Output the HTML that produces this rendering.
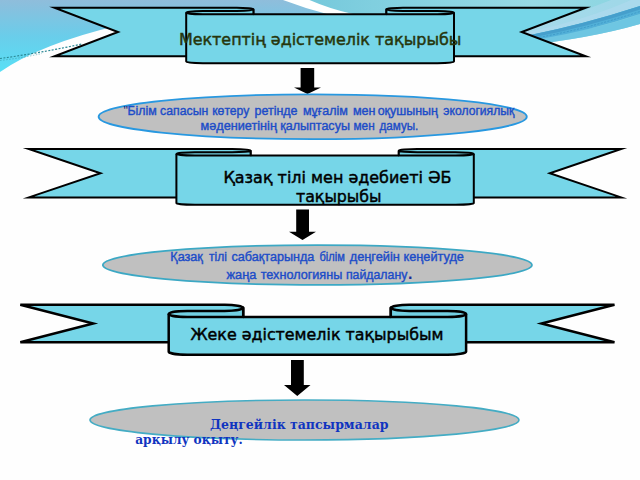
<!DOCTYPE html>
<html><head><meta charset="utf-8"><title>slide</title>
<style>
html,body{margin:0;padding:0;background:#fff;}
svg{display:block}
.t1{font-family:"DejaVu Sans","Liberation Sans",sans-serif;font-size:16px;fill:#26360c;stroke:#26360c;stroke-width:0.45px}
.t2{font-family:"DejaVu Sans","Liberation Sans",sans-serif;font-size:16px;fill:#000;stroke:#000;stroke-width:0.45px}
.e1{font-family:"Liberation Sans",sans-serif;font-size:12.5px;fill:#1c4cc8;stroke:#1c4cc8;stroke-width:0.4px}
.e3{font-family:"DejaVu Serif","Liberation Serif",serif;font-size:12.44px;font-weight:bold;fill:#1034c0}
</style></head><body>
<svg width="640" height="480" viewBox="0 0 640 480">

<defs>
<linearGradient id="g1" x1="0" y1="0" x2="0" y2="1">
<stop offset="0" stop-color="#8fbddb"/><stop offset="0.5" stop-color="#6acdea"/><stop offset="1" stop-color="#58e0f6"/>
</linearGradient>
<linearGradient id="g2" x1="0" y1="0" x2="1" y2="0">
<stop offset="0" stop-color="#72c6da"/><stop offset="0.25" stop-color="#80cfdf"/><stop offset="0.7" stop-color="#97dae5"/><stop offset="1" stop-color="#8ad4e0"/>
</linearGradient>
</defs>
<rect width="640" height="480" fill="#fefefe"/>
<!-- right area -->
<path d="M284,0 L640,0 L640,24 Q590,38.5 520,46 L300,46 Z" fill="url(#g2)"/>
<!-- left gradient block -->
<path d="M0,0 L284,0 Q304,8 328,14 L330,22 L120,25 Q40,44 0,72 Z" fill="url(#g1)"/>
<!-- white swoosh top centre -->
<path d="M283,0 L309.5,0 Q330,9 353,14 L327,14 Q304,8 283,0 Z" fill="#fff"/>
<!-- bands right -->
<path d="M505,36 Q575,16 640,-12 L640,6 Q584,24.25 528,35.5 Z" fill="#b8dcf2" opacity="0.45"/>
<path d="M500,37 Q580,24 640,-4 L640,6 Q584,24.25 528,35.5 Z" fill="#b8dcf2" opacity="0.4"/>
<path d="M528,38 Q590,32 640,14 L640,24 Q590,38.5 520,46 Z" fill="#6ec6e2"/>
<path d="M528,35.5 Q584,24.25 640,6 L640,14 Q590,30.5 540,39 Z" fill="#52b0d8"/>
<path d="M528,35.5 Q584,24.25 640,6 L640,9.5 Q586,27.5 532,37.5 Z" fill="#469fcc"/>
<path d="M536,38 Q588,28.5 640,11.5" fill="none" stroke="#3a94c4" stroke-width="0.8" stroke-dasharray="2,1.5"/>
<path d="M0,58.5 Q40,53 82,44" fill="none" stroke="#2a8794" stroke-width="1.2" stroke-dasharray="2,1.5"/>
<path d="M0,60.5 Q22,58 42,53.5" fill="none" stroke="#3a9aa8" stroke-width="0.8" stroke-dasharray="1.5,1.5" opacity="0.7"/>

<path d="M253.4,56.2 L54.5,56.2 L118,31.95 L54.5,7.7 L236.8,7.7 A16.6,1.65 0 0 1 253.4,9.35 L253.4,14.3" fill="#76d6e8" stroke="#000" stroke-width="2.0" stroke-linejoin="miter" stroke-miterlimit="8"/>
<path d="M386.4,56.2 L585.8,56.2 L521.7,31.95 L585.8,7.7 L403.0,7.7 A16.6,1.65 0 0 0 386.4,9.35 L386.4,14.3" fill="#76d6e8" stroke="#000" stroke-width="2.0" stroke-linejoin="miter" stroke-miterlimit="8"/>
<path d="M186.2,12.65 L186.2,61.55 A16.6,1.65 0 0 0 202.8,63.2 L437.4,63.2 A16.6,1.65 0 0 0 454,61.55 L454,12.65 L437.4,14.3 L202.8,14.3 Z" fill="#76d6e8"/>
<path d="M186.2,12.65 L186.2,61.55 A16.6,1.65 0 0 0 202.8,63.2 L437.4,63.2 A16.6,1.65 0 0 0 454,61.55 L454,12.65" fill="none" stroke="#000" stroke-width="2.0"/>
<path d="M236.8,11.0 L202.8,11.0 A16.6,1.65 0 0 0 202.8,14.3 L253.4,14.3 L253.4,9.35 A16.6,1.65 0 0 1 236.8,11.0 Z" fill="#72d0e2" stroke="#000" stroke-width="2.0" stroke-linejoin="round"/>
<path d="M403.0,11.0 L437.4,11.0 A16.6,1.65 0 0 1 437.4,14.3 L386.4,14.3 L386.4,9.35 A16.6,1.65 0 0 0 403.0,11.0 Z" fill="#72d0e2" stroke="#000" stroke-width="2.0" stroke-linejoin="round"/>
<path d="M253.4,14.3 L386.4,14.3" fill="none" stroke="#000" stroke-width="2.0"/>
<path d="M300.6,68.1 L314.2,68.1 L314.2,87.5 L321,87.5 L307.5,94 L294,87.5 L300.6,87.5 Z" fill="#000"/>
<ellipse cx="312.7" cy="116.7" rx="214.1" ry="22.4" fill="#c0c0c0" stroke="#2898e0" stroke-width="1.8"/>
<path d="M250.6,197.4 L28.8,197.4 L100.5,173.2 L28.8,149.0 L232.09,149.0 A18.51,1.65 0 0 1 250.6,150.65 L250.6,155.6" fill="#76d6e8" stroke="#000" stroke-width="2.0" stroke-linejoin="miter" stroke-miterlimit="8"/>
<path d="M398.8,197.4 L621.2,197.4 L549.8,173.2 L621.2,149.0 L417.31,149.0 A18.51,1.65 0 0 0 398.8,150.65 L398.8,155.6" fill="#76d6e8" stroke="#000" stroke-width="2.0" stroke-linejoin="miter" stroke-miterlimit="8"/>
<path d="M176.4,153.95 L176.4,203.15 A18.51,1.65 0 0 0 194.91,204.8 L455.29,204.8 A18.51,1.65 0 0 0 473.8,203.15 L473.8,153.95 L455.29,155.6 L194.91,155.6 Z" fill="#76d6e8"/>
<path d="M176.4,153.95 L176.4,203.15 A18.51,1.65 0 0 0 194.91,204.8 L455.29,204.8 A18.51,1.65 0 0 0 473.8,203.15 L473.8,153.95" fill="none" stroke="#000" stroke-width="2.0"/>
<path d="M232.09,152.3 L194.91,152.3 A18.51,1.65 0 0 0 194.91,155.6 L250.6,155.6 L250.6,150.65 A18.51,1.65 0 0 1 232.09,152.3 Z" fill="#72d0e2" stroke="#000" stroke-width="2.0" stroke-linejoin="round"/>
<path d="M417.31,152.3 L455.29,152.3 A18.51,1.65 0 0 1 455.29,155.6 L398.8,155.6 L398.8,150.65 A18.51,1.65 0 0 0 417.31,152.3 Z" fill="#72d0e2" stroke="#000" stroke-width="2.0" stroke-linejoin="round"/>
<path d="M250.6,155.6 L398.8,155.6" fill="none" stroke="#000" stroke-width="2.0"/>
<path d="M296.2,209.5 L309,209.5 L309,231.8 L316,231.8 L302.5,240 L289,231.8 L296.2,231.8 Z" fill="#000"/>
<ellipse cx="317.4" cy="265.0" rx="214.6" ry="19.9" fill="#c0c0c0" stroke="#3ca8c4" stroke-width="1.7"/>
<path d="M243.2,342.3 L20.3,342.3 L93.2,323.55 L20.3,304.8 L224.63,304.8 A18.57,3.05 0 0 1 243.2,307.85 L243.2,317.0" fill="#76d6e8" stroke="#000" stroke-width="2.5" stroke-linejoin="miter" stroke-miterlimit="5"/>
<path d="M390.8,342.3 L614.5,342.3 L541.5,323.55 L614.5,304.8 L409.37,304.8 A18.57,3.05 0 0 0 390.8,307.85 L390.8,317.0" fill="#76d6e8" stroke="#000" stroke-width="2.5" stroke-linejoin="miter" stroke-miterlimit="5"/>
<path d="M168.7,313.95 L168.7,351.65 A18.57,3.05 0 0 0 187.27,354.7 L447.53,354.7 A18.57,3.05 0 0 0 466.1,351.65 L466.1,313.95 L447.53,317.0 L187.27,317.0 Z" fill="#76d6e8"/>
<path d="M168.7,313.95 L168.7,351.65 A18.57,3.05 0 0 0 187.27,354.7 L447.53,354.7 A18.57,3.05 0 0 0 466.1,351.65 L466.1,313.95" fill="none" stroke="#000" stroke-width="2.5"/>
<path d="M224.63,310.9 L187.27,310.9 A18.57,3.05 0 0 0 187.27,317.0 L243.2,317.0 L243.2,307.85 A18.57,3.05 0 0 1 224.63,310.9 Z" fill="#72d0e2" stroke="#000" stroke-width="2.5" stroke-linejoin="round"/>
<path d="M409.37,310.9 L447.53,310.9 A18.57,3.05 0 0 1 447.53,317.0 L390.8,317.0 L390.8,307.85 A18.57,3.05 0 0 0 409.37,310.9 Z" fill="#72d0e2" stroke="#000" stroke-width="2.5" stroke-linejoin="round"/>
<path d="M243.2,317.0 L390.8,317.0" fill="none" stroke="#000" stroke-width="2.5"/>
<path d="M291,360 L303.8,360 L303.8,385 L310.5,385 L297.25,396 L284,385 L291,385 Z" fill="#000"/>
<ellipse cx="304.5" cy="420.0" rx="214.5" ry="20.0" fill="#c0c0c0" stroke="#44acc4" stroke-width="1.6"/>
<text x="178.9" y="44.7" textLength="282.5" lengthAdjust="spacingAndGlyphs" class="t1">Мектептің әдістемелік тақырыбы</text>
<text y="115.0" class="e1"><tspan x="123.4" style="fill:#141c78;stroke:none">&quot;</tspan><tspan x="127.4" textLength="29.3" lengthAdjust="spacingAndGlyphs">Білім</tspan> <tspan x="160.1" textLength="48.2" lengthAdjust="spacingAndGlyphs">сапасын</tspan> <tspan x="212.3" textLength="37.0" lengthAdjust="spacingAndGlyphs">көтеру</tspan> <tspan x="254.5" textLength="43.0" lengthAdjust="spacingAndGlyphs">ретінде</tspan> <tspan x="302.9" textLength="45.0" lengthAdjust="spacingAndGlyphs">мұғалім</tspan> <tspan x="352.9" textLength="22.6" lengthAdjust="spacingAndGlyphs">мен</tspan> <tspan x="377.7" textLength="60.2" lengthAdjust="spacingAndGlyphs">оқушының</tspan> <tspan x="443.3" textLength="71.0" lengthAdjust="spacingAndGlyphs">экологиялық</tspan></text>
<text y="130.4" class="e1"><tspan x="200.5" textLength="76.4" lengthAdjust="spacingAndGlyphs">мәдениетінің</tspan> <tspan x="280.3" textLength="69.6" lengthAdjust="spacingAndGlyphs">қалыптасуы</tspan> <tspan x="353.5" textLength="21.2" lengthAdjust="spacingAndGlyphs">мен</tspan> <tspan x="379.5" textLength="38.8" lengthAdjust="spacingAndGlyphs">дамуы.</tspan></text>
<text x="223.5" y="183.0" textLength="228" lengthAdjust="spacingAndGlyphs" class="t2">Қазақ тілі мен әдебиеті ӘБ</text>
<text x="296" y="201.7" textLength="85.5" lengthAdjust="spacingAndGlyphs" class="t2">тақырыбы</text>
<text y="261.0" class="e1"><tspan x="170.3" textLength="32.6" lengthAdjust="spacingAndGlyphs">Қазақ</tspan> <tspan x="209.1" textLength="17.8" lengthAdjust="spacingAndGlyphs">тілі</tspan> <tspan x="231.5" textLength="82.8" lengthAdjust="spacingAndGlyphs">сабақтарында</tspan> <tspan x="319.5" textLength="25.4" lengthAdjust="spacingAndGlyphs">білім</tspan> <tspan x="349.7" textLength="50.2" lengthAdjust="spacingAndGlyphs">деңгейін</tspan> <tspan x="403.5" textLength="60.4" lengthAdjust="spacingAndGlyphs">кеңейтуде</tspan></text>
<text y="279.3" class="e1"><tspan x="226.5" textLength="29.8" lengthAdjust="spacingAndGlyphs">жаңа</tspan> <tspan x="260.7" textLength="81.6" lengthAdjust="spacingAndGlyphs">технологияны</tspan> <tspan x="345.9" textLength="61.5" lengthAdjust="spacingAndGlyphs">пайдалану</tspan><tspan x="407.9" style="font-size:16px;font-weight:bold;stroke:none;fill:#1a2a98">.</tspan></text>
<text x="190.5" y="340.4" textLength="253" lengthAdjust="spacingAndGlyphs" class="t2">Жеке әдістемелік тақырыбым</text>
<text x="209.9" y="428.8" textLength="178.6" lengthAdjust="spacingAndGlyphs" class="e3">Деңгейлік тапсырмалар</text>
<text x="135.2" y="443.8" textLength="107.5" lengthAdjust="spacingAndGlyphs" class="e3">арқылу оқыту.</text>
</svg>
</body></html>
